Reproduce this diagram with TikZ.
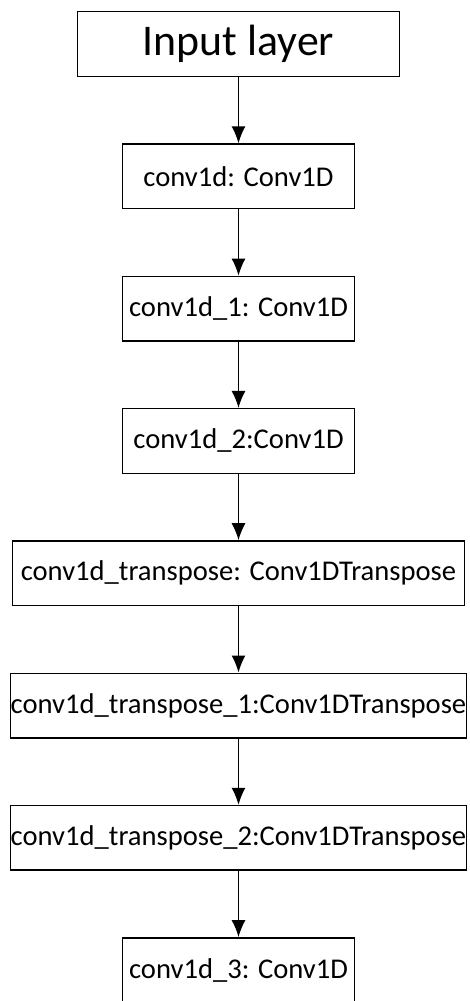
\documentclass[tikz,border=0pt]{standalone}
\usepackage{fontspec}
\setmainfont{Carlito}
\usetikzlibrary{arrows.meta,positioning}

\begin{document}
\begin{tikzpicture}[>={Latex[length=17pt,width=14pt]},node distance=66.3pt,
  layer/.style={draw,line width=1.4pt,minimum height=64.6pt,inner sep=0pt,font=\fontsize{28.6}{31}\selectfont},
  narrow/.style={layer,minimum width=232pt},wide/.style={layer,minimum width=452pt}]
\useasboundingbox (0,0) rectangle (470pt,-1001pt);
\node[layer,minimum width=322pt,font=\fontsize{43.8}{47}\selectfont] (input) at (238.5pt,-44pt) {Input layer};
\node[narrow,below=of input] (conv) {conv1d: Conv1D};
\node[narrow,below=of conv] (convA) {conv1d\_1: Conv1D};
\node[narrow,below=of convA] (convB) {conv1d\_2:Conv1D};
\node[wide,below=of convB] (trans) {conv1d\_transpose: Conv1DTranspose};
\node[wide,below=of trans] (transA) {conv1d\_transpose\_1:Conv1DTranspose};
\node[wide,below=of transA] (transB) {conv1d\_transpose\_2:Conv1DTranspose};
\node[narrow,below=of transB] (convC) {conv1d\_3: Conv1D};
\foreach \a/\b in {input/conv,conv/convA,convA/convB,convB/trans,trans/transA,transA/transB,transB/convC}
  \draw[->,line width=1.4pt] (\a)--(\b);
\end{tikzpicture}
\end{document}
